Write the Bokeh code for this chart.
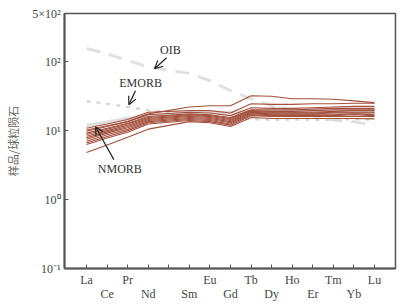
from bokeh.plotting import figure
from bokeh.models import (Range1d, FixedTicker, Label, Arrow, OpenHead)
from bokeh.embed import file_html
from bokeh.resources import INLINE
import math

nan = float("nan")

elements = ["La", "Ce", "Pr", "Nd", "Pm", "Sm", "Eu", "Gd", "Tb", "Dy", "Ho", "Er", "Tm", "Yb", "Lu"]
x_pos = list(range(len(elements)))

# chondrite-normalised reference patterns
oib   = [156, 130, 104.5, 84, nan, 67.6, 53, 38, 29, 22.8, 19.4, 16.4, 14.2, 13.4, 12.2]
emorb = [26.6, 24.5, 22.1, 19.7, nan, 17.6, 16.2, 14.9, 14.7, 14.4, 14.5, 14.4, 14.4, 14.7, 14.4]
nmorb = [11.8, 13.2, 15.0, 16.5, nan, 17.8, 18.1, 18.5, 18.6, 18.5, 18.5, 18.6, 18.5, 18.9, 18.5]

# samples
s01 = [10.2, 11.8, 13.5, 17.5, nan, 22.0, 23.0, 23.0, 32.0, 31.5, 29.0, 29.0, 28.5, 27.0, 25.5]
s02 = [10.8, 12.5, 14.5, 18.5, nan, 19.5, 19.5, 18.0, 24.5, 24.0, 24.0, 24.5, 24.5, 25.0, 25.0]
s03 = [9.8, 11.5, 13.5, 17.0, nan, 18.5, 18.0, 16.5, 21.5, 21.0, 21.0, 21.5, 22.0, 22.5, 22.5]
s04 = [9.2, 10.8, 12.8, 16.0, nan, 17.5, 17.0, 15.5, 20.0, 20.0, 20.0, 20.5, 21.0, 21.0, 21.0]
s05 = [8.8, 10.5, 12.5, 15.5, nan, 17.0, 16.5, 15.0, 19.5, 19.0, 19.0, 19.5, 20.0, 20.0, 20.0]
s06 = [8.3, 10.0, 12.0, 15.0, nan, 16.5, 16.0, 14.5, 19.0, 18.5, 18.5, 18.5, 19.0, 19.5, 19.5]
s07 = [7.9, 9.6, 11.5, 14.5, nan, 16.0, 15.5, 14.0, 18.5, 18.0, 18.0, 18.0, 18.5, 18.5, 18.5]
s08 = [7.5, 9.2, 11.0, 14.0, nan, 15.5, 15.0, 13.5, 18.0, 17.5, 17.5, 17.5, 18.0, 18.0, 18.0]
s09 = [7.0, 8.7, 10.5, 13.5, nan, 15.0, 14.5, 13.0, 17.5, 17.0, 17.0, 17.0, 17.0, 17.5, 17.0]
s10 = [6.6, 8.2, 10.0, 13.0, nan, 14.5, 14.0, 12.5, 17.0, 16.5, 16.5, 16.5, 16.5, 17.0, 16.5]
s11 = [6.3, 7.8, 9.5, 12.5, nan, 14.0, 13.5, 12.0, 16.5, 16.0, 16.0, 16.0, 16.0, 16.0, 16.0]
s12 = [4.8, 6.2, 8.0, 10.5, nan, 13.5, 13.0, 11.5, 15.5, 15.0, 15.0, 15.0, 15.0, 15.0, 14.8]
samples = [s01, s02, s03, s04, s05, s06, s07, s08, s09, s10, s11, s12]

y_ticks = [0.1, 1, 10, 100, 500]
y_tick_labels = ["10⁻¹", "10⁰", "10¹", "10²", "5×10²"]

SERIF = "Liberation Serif"


def clean(vals):
    xs, ys = [], []
    for x, v in zip(x_pos, vals):
        if not math.isnan(v):
            xs.append(x)
            ys.append(v)
    return xs, ys


p = figure(width=400, height=303, output_backend="svg", toolbar_location=None,
           y_axis_type="log", x_range=Range1d(-1.07, 15.02), y_range=Range1d(0.1, 500),
           min_border_left=64, min_border_right=5, min_border_top=13, min_border_bottom=34)
p.grid.visible = False
p.outline_line_color = "#555555"
p.outline_line_width = 1.5
p.background_fill_color = "white"
p.border_fill_color = "white"

# reference patterns
xs, ys = clean(oib)
p.line(xs, ys, line_color="#e0e0e0", line_width=3, line_dash="14 9")
xs, ys = clean(emorb)
p.line(xs, ys, line_color="#d8d8d8", line_width=2.5, line_dash="4 6")
xs, ys = clean(nmorb)
p.line(xs, ys, line_color="#dedede", line_width=3.5)

for s in samples:
    xs, ys = clean(s)
    p.line(xs, ys, line_color="#a4503c", line_width=1.1)

# y axis
ya = p.yaxis[0]
ya.ticker = FixedTicker(ticks=y_ticks)
ya.major_label_overrides = {t: l for t, l in zip(y_ticks, y_tick_labels)}
ya.minor_tick_line_color = None
ya.major_tick_in = 4
ya.major_tick_out = 0
ya.major_label_standoff = 4
ya.axis_line_color = "#555555"
ya.axis_line_width = 2
ya.major_tick_line_color = "#555555"
ya.major_label_text_font = SERIF
ya.major_label_text_font_size = "12px"
ya.major_label_text_color = "#444444"
ya.axis_label = "样品/球粒陨石"
ya.axis_label_text_font = "Noto Sans CJK SC"
ya.axis_label_text_font_style = "normal"
ya.axis_label_text_font_size = "11px"
ya.axis_label_text_color = "#666666"
ya.axis_label_standoff = 8

# x axis: labels staggered over two rows (odd elements on the second row)
def x_label(i):
    name = elements[i]
    if name == "Pm":
        return ""
    return name if i % 2 == 0 else " \n" + name

xa = p.xaxis[0]
xa.ticker = FixedTicker(ticks=x_pos)
xa.major_label_overrides = {i: x_label(i) for i in x_pos}
xa.minor_tick_line_color = None
xa.major_tick_in = 4
xa.major_tick_out = 0
xa.major_label_standoff = 4
xa.axis_line_color = "#555555"
xa.axis_line_width = 2
xa.major_tick_line_color = "#555555"
xa.major_label_text_font = SERIF
xa.major_label_text_font_size = "12px"
xa.major_label_text_color = "#444444"
xa.major_label_text_line_height = 1.0

# annotations
def add_note(text, tx, ty, x0, y0, x1, y1):
    p.add_layout(Label(x=tx, y=ty, text=text, text_font=SERIF, text_font_size="12px",
                       text_color="#333333", text_align="center", text_baseline="middle"))
    p.add_layout(Arrow(end=OpenHead(size=8, line_width=1.2, line_color="#222222"),
                       x_start=x0, y_start=y0, x_end=x1, y_end=y1,
                       line_color="#222222", line_width=1.2))

add_note("OIB", 4.08, 149, 3.89, 114, 3.31, 79)
add_note("EMORB", 2.63, 49, 2.38, 38, 2.06, 23.8)
add_note("NMORB", 1.62, 2.79, 1.33, 3.8, 0.44, 11.3)

open("out.html", "w").write(file_html(p, INLINE))
